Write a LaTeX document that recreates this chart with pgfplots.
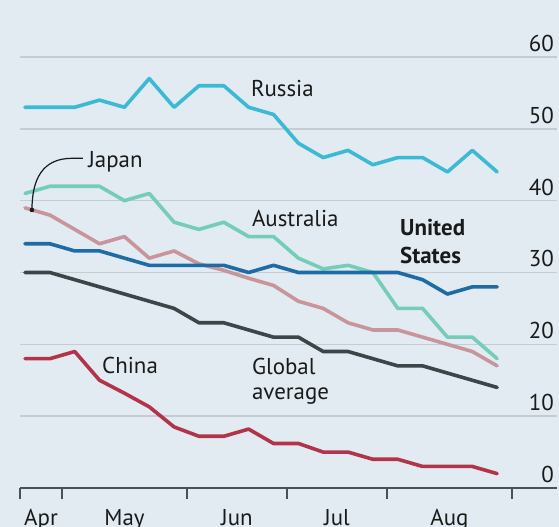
\documentclass[border=0pt]{standalone}
\usepackage{pgfplots}
\pgfplotsset{compat=1.18}
\usepackage{fontspec}
\setmainfont{PT Sans}
\definecolor{bg}{HTML}{E1EBF1}
\definecolor{russia}{HTML}{3DBAD3}
\definecolor{australia}{HTML}{74CDB9}
\definecolor{usa}{HTML}{1F6BA5}
\definecolor{japan}{HTML}{C9959D}
\definecolor{global}{HTML}{3E4549}
\definecolor{china}{HTML}{B2344B}
\definecolor{textc}{HTML}{1A1A1A}
\definecolor{gridc}{HTML}{C5CDD3}
\definecolor{axisgray}{HTML}{4A5055}
\newcommand\lab{\fontsize{23}{27}\selectfont}
\begin{document}
\begin{tikzpicture}
\useasboundingbox (0bp,0bp) rectangle (559bp,527bp);
\fill[bg] (0bp,0bp) rectangle (559bp,527bp);
\clip (0bp,0bp) rectangle (559bp,527bp);
\begin{axis}[
  at={(20bp,39bp)}, anchor=south west,
  scale only axis, width=537bp, height=431bp,
  xmin=-0.2012, xmax=21.408, ymin=0, ymax=60,
  axis x line*=bottom, axis y line*=right,
  y axis line style={draw=none},
  x axis line style={line width=2.5bp, color=axisgray},
  /pgf/number format/assume math mode=true,
  ytick={0,10,...,60},
  ymajorgrids,
  grid style={line width=1.4bp, color=gridc},
  major tick length=0bp,
  minor tick length=11bp,
  tick align=outside,
  xtick={0.644,4.004,8.531,12.555,17.08},
  xticklabels={Apr,May,Jun,Jul,Aug},
  minor xtick={-0.2012,1.489,6.519,10.543,14.567,19.598},
  minor x tick style={line width=2bp, color=axisgray},
  xticklabel style={anchor=base, inner sep=0pt, yshift=-37bp, font=\lab, color=textc},
  yticklabel style={anchor=base east, inner sep=0pt, xshift=-3bp, yshift=5.5bp, font=\lab, color=textc},
  every axis plot/.append style={line width=3.6bp, line join=round, line cap=round, mark=none},
  clip=false,
]
\addplot[japan] coordinates {(0,39)(1,38)(2,36)(3,34)(4,35)(5,32)(6,33)(7,31.2)(8,30.3)(9,29.2)(10,28.2)(11,26)(12,25)(13,23)(14,22)(15,22)(16,21)(17,20)(18,19)(19,17)};
\addplot[australia] coordinates {(0,41)(1,42)(2,42)(3,42)(4,40)(5,41)(6,37)(7,36)(8,37)(9,35)(10,35)(11,32)(12,30.5)(13,31)(14,30)(15,25)(16,25)(17,21)(18,21)(19,18)};
\addplot[global] coordinates {(0,30)(1,30)(2,29)(3,28)(4,27)(5,26)(6,25)(7,23)(8,23)(9,22)(10,21)(11,21)(12,19)(13,19)(14,18)(15,17)(16,17)(17,16)(18,15)(19,14)};
\addplot[china] coordinates {(0,18)(1,18)(2,19)(3,15)(4,13.2)(5,11.3)(6,8.5)(7,7.2)(8,7.2)(9,8.2)(10,6.2)(11,6.2)(12,5)(13,5)(14,4)(15,4)(16,3)(17,3)(18,3)(19,2)};
\addplot[usa] coordinates {(0,34)(1,34)(2,33)(3,33)(4,32)(5,31)(6,31)(7,31)(8,31)(9,30)(10,31)(11,30)(12,30)(13,30)(14,30)(15,30)(16,29)(17,27)(18,28)(19,28)};
\addplot[russia] coordinates {(0,53)(1,53)(2,53)(3,54)(4,53)(5,57)(6,53)(7,56)(8,56)(9,53)(10,52)(11,48)(12,46)(13,47)(14,45)(15,46)(16,46)(17,44)(18,47)(19,44)};
\draw[line width=1.2bp, color=textc] (axis cs:2.33,45.9) -- (axis cs:1.9,45.9) .. controls (axis cs:0.7,45.9) and (axis cs:0.28,43) .. (axis cs:0.28,38.7);
\addplot[only marks, mark=*, mark size=2bp, color=textc, line width=0.5bp] coordinates {(0.28,38.7)};
\node[anchor=base west, inner sep=0pt, font=\lab, color=textc] at (axis cs:9.09,54.46) {Russia};
\node[anchor=base west, inner sep=0pt, font=\lab, color=textc] at (axis cs:2.54,44.57) {Japan};
\node[anchor=base west, inner sep=0pt, font=\lab, color=textc] at (axis cs:9.13,36.4) {Australia};
\node[anchor=base west, inner sep=0pt, font=\lab\bfseries, color=textc] at (axis cs:15.09,35.1) {United};
\node[anchor=base west, inner sep=0pt, font=\lab\bfseries, color=textc] at (axis cs:15.09,31.3) {States};
\node[anchor=base west, inner sep=0pt, font=\lab, color=textc] at (axis cs:3.10,15.88) {China};
\node[anchor=base west, inner sep=0pt, font=\lab, color=textc] at (axis cs:9.13,15.74) {Global};
\node[anchor=base west, inner sep=0pt, font=\lab, color=textc] at (axis cs:9.13,12.3) {average};
\end{axis}
\end{tikzpicture}
\end{document}
